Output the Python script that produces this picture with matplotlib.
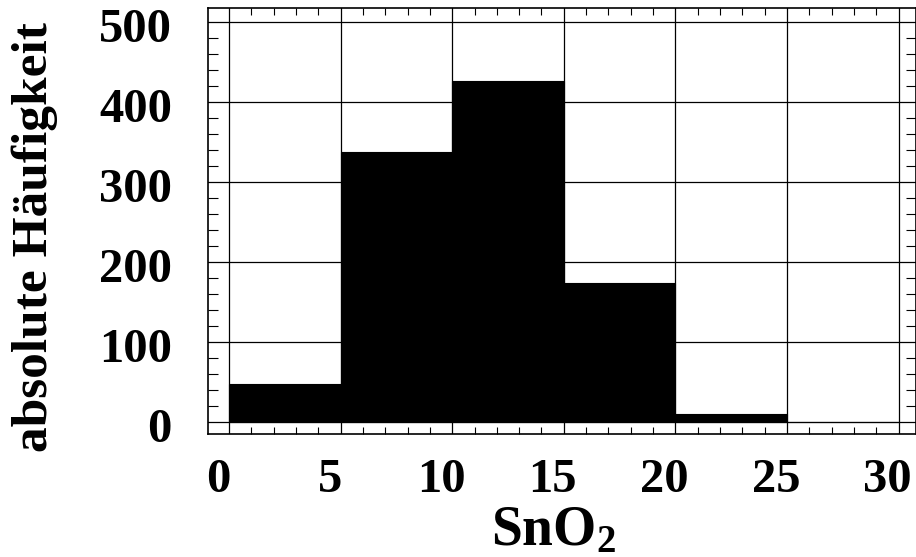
import numpy as np
import matplotlib as mpl
mpl.use("Agg")
import matplotlib.pyplot as plt
from matplotlib.ticker import MultipleLocator
from matplotlib.transforms import ScaledTranslation

# histogram data (class edges and counts)
binEdges = [0, 5, 10, 15, 20, 25, 30]
counts = [47, 337, 426, 174, 10, 0]
xTicks = [0, 5, 10, 15, 20, 25, 30]
yTicks = [0, 100, 200, 300, 400, 500]

FONT = 'Liberation Serif'
plt.rcParams['font.family'] = FONT
plt.rcParams['font.weight'] = 'bold'
plt.rcParams['mathtext.fontset'] = 'custom'
plt.rcParams['mathtext.rm'] = FONT + ':bold'
plt.rcParams['mathtext.bf'] = FONT + ':bold'

fig = plt.figure(figsize=(9.16, 5.57), dpi=100)
ax = fig.add_axes([208/916, 1 - 434/557, 1 - 208/916, 426/557])

widths = np.diff(binEdges)
ax.bar(binEdges[:-1], counts, width=widths, align='edge',
       color='black', edgecolor='black', linewidth=0.8, zorder=3)

ax.set_xlim(-0.94, 30.78)
ax.set_ylim(-15, 517)
ax.set_xticks(xTicks)
ax.set_yticks(yTicks)
ax.xaxis.set_minor_locator(MultipleLocator(1))
ax.yaxis.set_minor_locator(MultipleLocator(20))
ax.grid(True, which='major', color='black', linewidth=0.9, zorder=1)
ax.set_axisbelow(True)

ax.tick_params(which='major', length=0, labelsize=35)
ax.tick_params(axis='x', which='major', pad=17)
ax.tick_params(axis='y', which='major', pad=26)
ax.tick_params(which='minor', direction='in', top=True, right=True,
               length=5, width=0.8, color='black')
ax.tick_params(axis='y', which='minor', length=7)
for sp in ax.spines.values():
    sp.set_linewidth(1.2)

# x labels sit a bit left of their grid lines, y labels a bit low
shift = ScaledTranslation(-11/100, 0, fig.dpi_scale_trans)
for lab in ax.get_xticklabels():
    lab.set_transform(lab.get_transform() + shift)
yshift = ScaledTranslation(0, -3/100, fig.dpi_scale_trans)
for lab in ax.get_yticklabels():
    lab.set_transform(lab.get_transform() + yshift)
for lab in ax.get_xticklabels() + ax.get_yticklabels():
    lab.set_fontfamily(FONT)
    lab.set_fontweight('bold')

fig.text(554/916, 1 - 545/557, r'$\mathrm{SnO_2}$', fontsize=40,
         ha='center', va='baseline')
fig.text(35/916, 1 - 237/557, 'absolute Häufigkeit', fontsize=37,
         family=FONT, fontweight='bold', rotation=90, ha='center', va='center')

fig.savefig('out.png', dpi=100)
